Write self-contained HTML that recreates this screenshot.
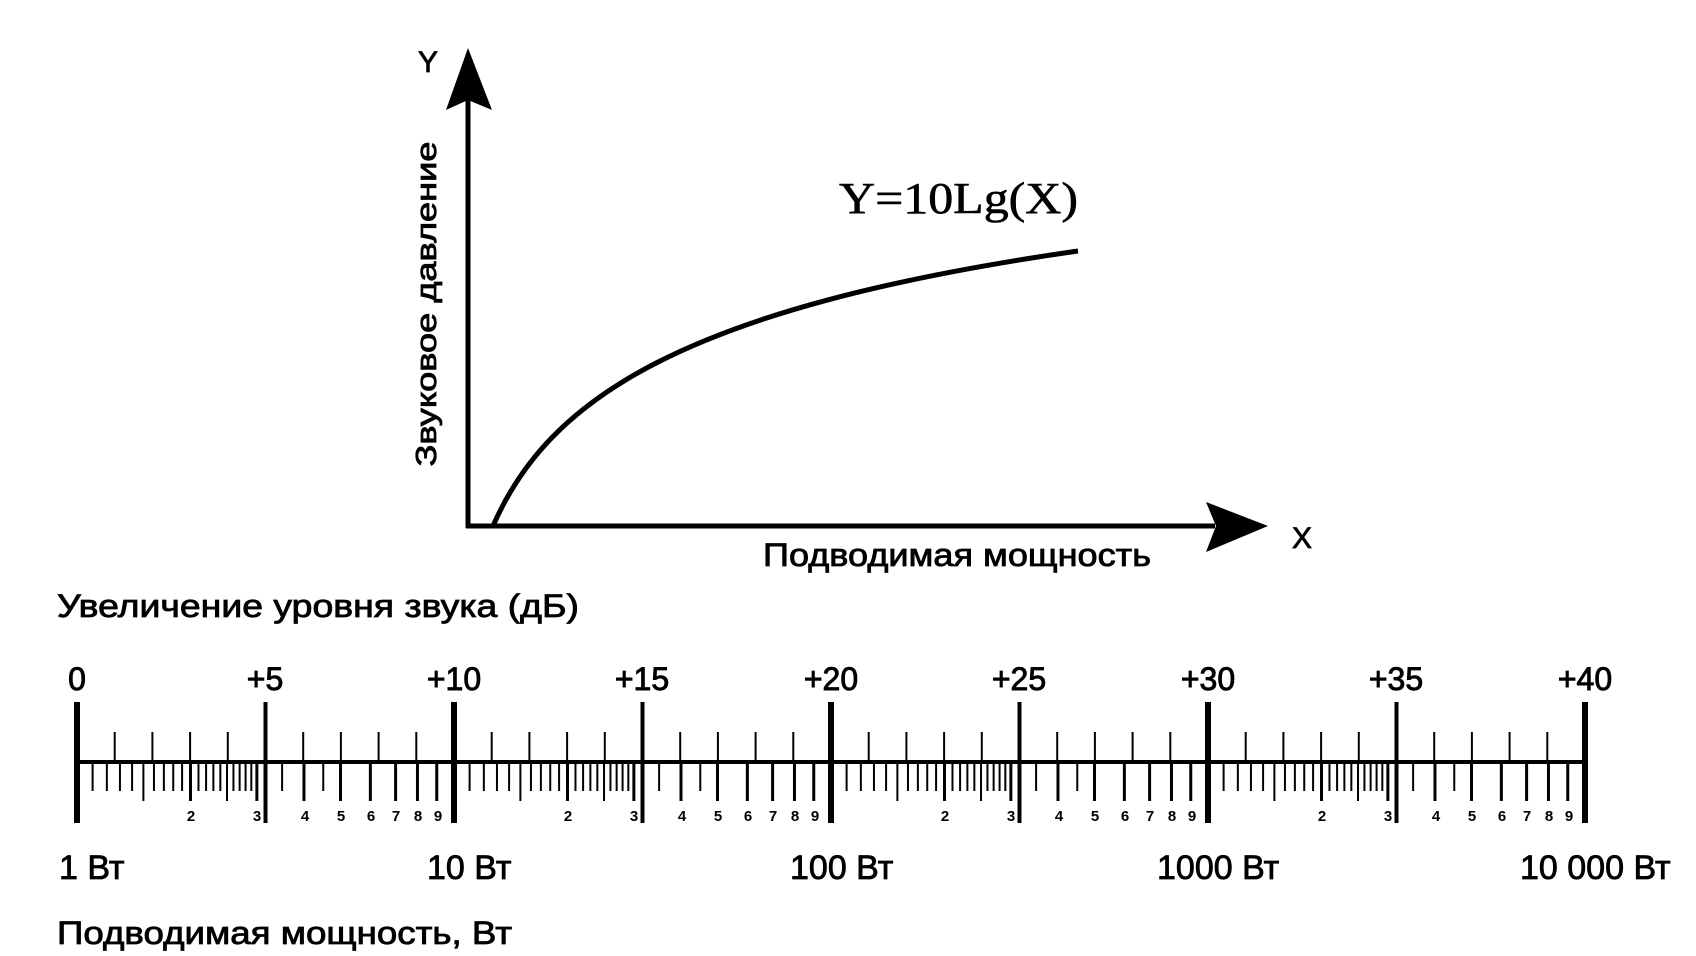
<!DOCTYPE html>
<html><head><meta charset="utf-8"><style>
html,body{margin:0;padding:0;background:#fff;}
svg{display:block;}
text{font-family:"Liberation Sans",sans-serif;fill:#000;}
</style></head><body>
<svg id="s" width="1696" height="956" viewBox="0 0 1696 956" xmlns="http://www.w3.org/2000/svg">
<line x1="468" y1="100" x2="468" y2="528" stroke="#000" stroke-width="5"/>
<polygon points="468,48 446,110 468,100 492,110" fill="#000"/>
<line x1="466" y1="526" x2="1215" y2="526" stroke="#000" stroke-width="5"/>
<polygon points="1268,526 1206,502 1216,526 1206,552" fill="#000"/>
<g stroke="#000" stroke-width="0.8">
<text x="428" y="72" font-size="30" text-anchor="middle">Y</text>
<text x="1302" y="548" font-size="30" text-anchor="middle">X</text>
<text transform="translate(436,304) rotate(-90)" font-size="29" text-anchor="middle" textLength="325" lengthAdjust="spacingAndGlyphs">Звуковое давление</text>
<text x="763" y="566" font-size="32" textLength="388" lengthAdjust="spacingAndGlyphs">Подводимая мощность</text>
<text x="57" y="617" font-size="32" textLength="522" lengthAdjust="spacingAndGlyphs">Увеличение  уровня звука (дБ)</text>
<text x="57" y="944" font-size="32" textLength="455" lengthAdjust="spacingAndGlyphs">Подводимая мощность, Вт</text>
</g>
<path d="M493,526 C548,400 680,308 1078,251" fill="none" stroke="#000" stroke-width="5"/>
<text x="839" y="213" font-size="44" style="font-family:'Liberation Serif',serif" stroke="#000" stroke-width="0.6" textLength="239" lengthAdjust="spacingAndGlyphs">Y=10Lg(X)</text>
<g font-size="32" text-anchor="middle" stroke="#000" stroke-width="0.9">
<text x="77" y="690">0</text>
<text x="265" y="690">+5</text>
<text x="454" y="690">+10</text>
<text x="642" y="690">+15</text>
<text x="831" y="690">+20</text>
<text x="1019" y="690">+25</text>
<text x="1208" y="690">+30</text>
<text x="1396" y="690">+35</text>
<text x="1585" y="690">+40</text>
</g>
<g id="ticks"></g>
<g font-size="15" font-weight="bold" text-anchor="middle">
<text x="191" y="821">2</text><text x="257" y="821">3</text><text x="305" y="821">4</text><text x="341" y="821">5</text><text x="371" y="821">6</text><text x="396" y="821">7</text><text x="418" y="821">8</text><text x="438" y="821">9</text>
<text x="568" y="821">2</text><text x="634" y="821">3</text><text x="682" y="821">4</text><text x="718" y="821">5</text><text x="748" y="821">6</text><text x="773" y="821">7</text><text x="795" y="821">8</text><text x="815" y="821">9</text>
<text x="945" y="821">2</text><text x="1011" y="821">3</text><text x="1059" y="821">4</text><text x="1095" y="821">5</text><text x="1125" y="821">6</text><text x="1150" y="821">7</text><text x="1172" y="821">8</text><text x="1192" y="821">9</text>
<text x="1322" y="821">2</text><text x="1388" y="821">3</text><text x="1436" y="821">4</text><text x="1472" y="821">5</text><text x="1502" y="821">6</text><text x="1527" y="821">7</text><text x="1549" y="821">8</text><text x="1569" y="821">9</text>
</g>
<g font-size="34" stroke="#000" stroke-width="0.8">
<text x="59" y="879">1 Вт</text>
<text x="427" y="879">10 Вт</text>
<text x="790" y="879">100 Вт</text>
<text x="1157" y="879">1000 Вт</text>
<text x="1520" y="879">10 000 Вт</text>
</g>
</svg>
<script>
(function(){
var g=document.getElementById('ticks'),ns='http://www.w3.org/2000/svg';
function L(x1,y1,x2,y2,w){var l=document.createElementNS(ns,'line');l.setAttribute('x1',x1);l.setAttribute('y1',y1);l.setAttribute('x2',x2);l.setAttribute('y2',y2);l.setAttribute('stroke','#000');l.setAttribute('stroke-width',w);g.appendChild(l);}
var x0=77,k=37.7;
L(x0,762,x0+40*k,762,4);
for(var d=0;d<=40;d++){var x=x0+d*k;
 if(d%10==0)L(x,702,x,823,6);
 else if(d%5==0)L(x,702,x,823,4);
 else L(x,732,x,762,2);}
for(var dec=0;dec<4;dec++){
 var b=x0+dec*10*k,vals=[];
 for(var v=1.1;v<2.001;v+=0.1)vals.push(+v.toFixed(2));
 for(var v=2.1;v<3.001;v+=0.1)vals.push(+v.toFixed(2));
 vals.push(3.5,4,4.5,5,6,7,8,9);
 vals.forEach(function(v){var x=b+10*Math.log10(v)*k;
  var lng=(Math.abs(v-Math.round(v))<0.01||v==1.5||v==2.5);
  L(x,764,x,lng?801:791,(Math.abs(v-Math.round(v))<0.01)?3:2);});
}
})();
</script>
</body></html>
